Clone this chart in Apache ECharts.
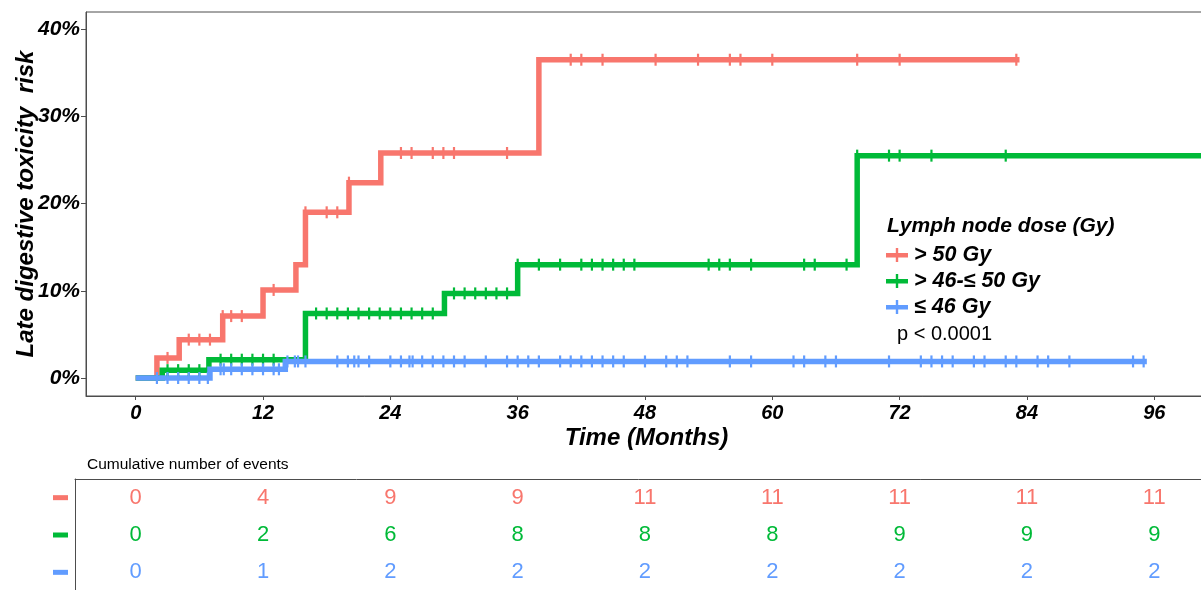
<!DOCTYPE html>
<html>
<head>
<meta charset="utf-8">
<script src="https://cdn.jsdelivr.net/npm/echarts@6/dist/echarts.min.js"></script>
<style>
html,body{margin:0;padding:0;background:#fff;}
#chart{width:1201px;height:590px;}
</style>
</head>
<body>
<div id="chart"></div>
<script>
// ---------- DATA ----------
const seriesNames = ['> 50 Gy', '> 46-\u2264 50 Gy', '\u2264 46 Gy'];
const seriesColors = ['#F8766D', '#00BA38', '#619CFF'];

// KM step curves: [time (months), cumulative risk (%)]
const curveHigh = [[0,0],[2.0,2.3],[4.1,4.4],[8.2,7.1],[12.0,10.1],[15.1,13.0],[16.0,19.0],[20.1,22.4],[23.1,25.8],[38.0,36.5],[83.3,36.5]];
const curveMid  = [[0,0],[2.5,0.9],[6.9,2.1],[16.0,7.4],[29.1,9.7],[36.0,13.0],[68.0,25.5],[104,25.5]];
const curveLow  = [[0,0],[7.0,1.0],[14.1,1.9],[95.3,1.9]];

// Censoring times (months)
const censorHigh = [3,5,6,7,8.2,9,10,13,16,18,19,20.1,25,26,28,29,30,35,41,42,44,49,53,56,57,60,68,72,83];
const censorMid  = [3,4,5,6,8,9,10,11,12,13,17,18,19,20,21,22,23,24,25,26,27,28,30,31,32,33,34,35,36,38,40,42,43,44,45,46,47,54,55,56,58,63,64,67,68,71,72,75,82];
const censorLow  = [2,3,4,5,6,6.8,8,8.3,9,10,11,12,13,13.5,14.3,15,15.3,16,19,20,20.6,21,22,24,25,25.8,26.1,27,28,29,30,31,33,35,36,37,38,40,41,42,43,44,45,46,48,50,51,52,56,58,62,63,65,66,71,74,75,76,77,79,80,82,83,85,86,88,94,95];

// Axis ticks
const xTicks = [0,12,24,36,48,60,72,84,96];
const yTicks = [0,10,20,30,40];

// Risk table: cumulative number of events at each x tick
const eventsHigh = [0,4,9,9,11,11,11,11,11];
const eventsMid  = [0,2,6,8,8,8,9,9,9];
const eventsLow  = [0,1,2,2,2,2,2,2,2];

// ---------- LAYOUT ----------
const FONT = "'Liberation Sans', Arial, sans-serif";
const PX0 = 135.7, PPM = 10.61;          // x pixel of month 0, px per month
const Y0 = 378, PPP = 8.72;              // y pixel of 0 %, px per %
const G1 = {left:86, right:-6, top:12, bottom:396};
const G2 = {left:75, top:479, height:112};
const rightEdge = 1201 + 6;
const x1min = (G1.left - PX0)/PPM, x1max = (rightEdge - PX0)/PPM;
const x2min = (G2.left - PX0)/PPM;
const y1min = -(G1.bottom - Y0)/PPP, y1max = (Y0 - G1.top)/PPP;

function stepValue(curve, t){
  let v = curve[0][1];
  for (const p of curve){ if (t >= p[0]) v = p[1]; }
  return v;
}
const curves = [curveHigh, curveMid, curveLow];
const censors = [censorHigh, censorMid, censorLow];
const events = [eventsHigh, eventsMid, eventsLow];

const series = [];
curves.forEach((c,i)=>{
  series.push({
    name: seriesNames[i], type:'line', step:'end', data:c,
    xAxisIndex:0, yAxisIndex:0, symbol:'none', clip:true,
    lineStyle:{color:seriesColors[i], width:5.5, cap:'butt', join:'miter'},
    itemStyle:{color:seriesColors[i]}, silent:true, z:2+i
  });
});
censors.forEach((cs,i)=>{
  series.push({
    name: seriesNames[i], type:'scatter', xAxisIndex:0, yAxisIndex:0,
    data: cs.map(t=>[t, stepValue(curves[i], t)]),
    symbol:'rect', symbolSize:[2.2,12],
    itemStyle:{color:seriesColors[i], opacity:1}, silent:true, z:5+i
  });
});
const rowKeys = ['r','g','b'];
events.forEach((ev,i)=>{
  series.push({
    name:'table'+i, type:'scatter', xAxisIndex:1, yAxisIndex:1,
    data: ev.map((n,k)=>[xTicks[k], i, n]),
    symbolSize:2, itemStyle:{color:'rgba(0,0,0,0)', opacity:1}, silent:true, z:10,
    label:{show:true, position:'inside', formatter:p=>String(p.value[2]),
      color:seriesColors[i], opacity:1, fontSize:22, fontFamily:FONT}
  });
});

const chart = echarts.init(document.getElementById('chart'), null, {renderer:'canvas'});
chart.setOption({
  animation:false,
  backgroundColor:'#fff',
  grid:[
    {left:G1.left, right:G1.right, top:G1.top, height:G1.bottom-G1.top, outerBoundsMode:'none', containLabel:false,
     show:true, borderColor:'#4d4d4d', borderWidth:1, backgroundColor:'transparent'},
    {left:G2.left, right:G1.right, top:G2.top, height:G2.height, outerBoundsMode:'none', containLabel:false}
  ],
  xAxis:[
    {type:'value', gridIndex:0, min:x1min, max:x1max,
     name:'Time (Months)', nameLocation:'middle', nameGap:30, nameMoveOverlap:false,
     nameTextStyle:{fontFamily:FONT, fontSize:24, fontWeight:'bold', fontStyle:'italic', color:'#000'},
     axisLine:{show:true, onZero:false, lineStyle:{color:'#4d4d4d', width:1}},
     axisTick:{show:true, length:4, customValues:xTicks, lineStyle:{color:'#4d4d4d'}},
     axisLabel:{customValues:xTicks, margin:7, fontFamily:FONT, fontSize:20, fontWeight:'bold', fontStyle:'italic', color:'#000'},
     splitLine:{show:false}},
    {type:'value', gridIndex:1, min:x2min, max:x1max, position:'top',
     axisLine:{show:true, onZero:false, lineStyle:{color:'#4d4d4d', width:1}},
     axisTick:{show:false}, axisLabel:{show:false}, splitLine:{show:false}}
  ],
  yAxis:[
    {type:'value', gridIndex:0, min:y1min, max:y1max,
     name:'Late digestive toxicity  risk', nameLocation:'middle', nameGap:48, nameRotate:90, nameMoveOverlap:false,
     nameTextStyle:{fontFamily:FONT, fontSize:24, fontWeight:'bold', fontStyle:'italic', color:'#000'},
     axisLine:{show:true, onZero:false, lineStyle:{color:'#4d4d4d'}},
     axisTick:{show:true, length:5, customValues:yTicks, lineStyle:{color:'#4d4d4d'}},
     axisLabel:{customValues:yTicks, formatter:v=>Math.round(v)+'%', margin:6,
       fontFamily:FONT, fontSize:21, fontWeight:'bold', fontStyle:'italic', color:'#000'},
     splitLine:{show:false}},
    {type:'category', gridIndex:1, data:seriesNames, inverse:true,
     axisLine:{show:true, onZero:false, lineStyle:{color:'#4d4d4d'}},
     axisTick:{show:false}, splitLine:{show:false},
     axisLabel:{margin:7, formatter:(v,idx)=>'{'+rowKeys[idx]+'|}',
       rich:{
         r:{width:15, height:5, backgroundColor:seriesColors[0]},
         g:{width:15, height:5, backgroundColor:seriesColors[1]},
         b:{width:15, height:5, backgroundColor:seriesColors[2]}
       }}}
  ],
  legend:{
    data:seriesNames, orient:'vertical', left:886, top:244,
    itemWidth:24, itemHeight:14, itemGap:4, padding:0, selectedMode:false,
    icon:'path://M0,5h22v4.5h-22z M9.8,0h2.4v14h-2.4z',
    textStyle:{fontFamily:FONT, fontSize:21.5, fontWeight:'bold', fontStyle:'italic', color:'#000', lineHeight:22}
  },
  graphic:[
    {type:'text', left:887, top:216, style:{text:'Lymph node dose (Gy)', font:'italic bold 21px '+FONT, fill:'#000'}},
    {type:'text', left:897, top:324, style:{text:'p < 0.0001', font:'20px '+FONT, fill:'#000'}},
    {type:'text', left:87, top:457, style:{text:'Cumulative number of events', font:'15.5px '+FONT, fill:'#000'}}
  ],
  series:series
});
</script>
</body>
</html>
